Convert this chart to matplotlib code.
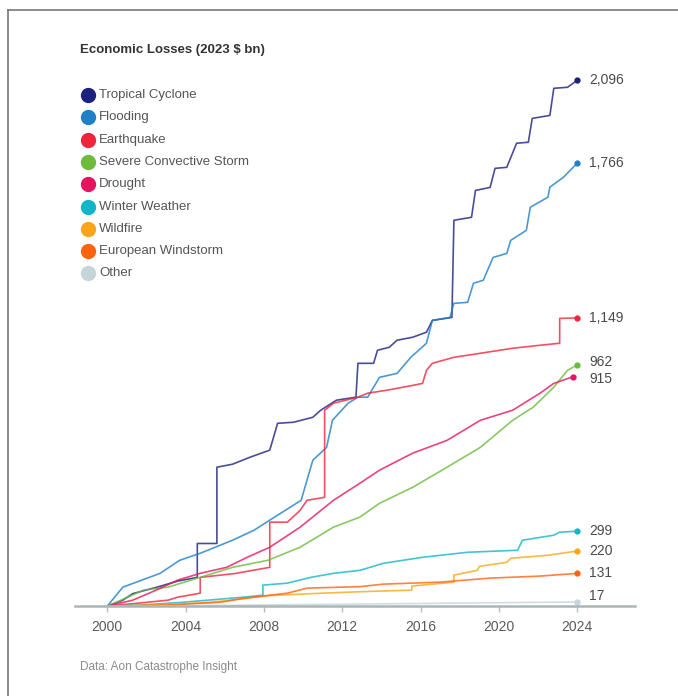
import matplotlib
matplotlib.use("Agg")
import matplotlib.pyplot as plt
from matplotlib.lines import Line2D

plt.rcParams['font.family'] = ['Liberation Sans', 'DejaVu Sans']

# cumulative economic losses, 2023 $ bn (year, running total)
tc_years = [2000, 2000.8, 2001.3, 2002.5, 2003.6, 2004.6, 2004.6, 2005.4, 2005.6, 2005.6,
            2006.4, 2007.3, 2008.3, 2008.7, 2009.5, 2010.5, 2010.9, 2011.7, 2012.7, 2012.8,
            2013.6, 2013.8, 2014.4, 2014.8, 2015.6, 2016.3, 2016.6, 2017.6, 2017.7, 2018.6,
            2018.8, 2019.55, 2019.8, 2020.4, 2020.9, 2021.5, 2021.7, 2022.6, 2022.8, 2023.5, 2024]
tc_vals = [0, 24, 50, 75, 100, 115, 250, 250, 250, 554,
           566, 594, 622, 729, 733, 753, 781, 821, 833, 968,
           968, 1020, 1032, 1060, 1072, 1092, 1139, 1151, 1538, 1550,
           1657, 1669, 1745, 1749, 1845, 1849, 1944, 1956, 2064, 2068, 2096]

fl_years = [2000, 2000.8, 2002.7, 2003.7, 2004.75, 2006.4, 2007.5, 2008.3, 2009.9, 2010.5,
            2011.2, 2011.5, 2012.3, 2012.8, 2013.3, 2013.9, 2014.8, 2015.5, 2016.3, 2016.6,
            2017.5, 2017.7, 2018.4, 2018.7, 2019.2, 2019.7, 2020.4, 2020.6, 2021.4, 2021.6,
            2022.5, 2022.6, 2023.3, 2024]
fl_vals = [0, 76, 131, 183, 211, 263, 303, 343, 422, 582,
           633, 741, 809, 833, 833, 912, 928, 992, 1048, 1139,
           1151, 1207, 1211, 1287, 1299, 1390, 1406, 1458, 1498, 1590,
           1630, 1670, 1710, 1766]

eq_years = [2000, 2003.1, 2003.6, 2004.75, 2004.75, 2006.5, 2008.3, 2008.3, 2009.2, 2009.85,
            2010.2, 2011.1, 2011.1, 2011.55, 2012.8, 2013.3, 2014.3, 2015.6, 2016.1, 2016.3,
            2016.6, 2017.7, 2019.05, 2020.7, 2022.1, 2023.1, 2023.1, 2024]
eq_vals = [0, 24, 36, 52, 115, 130, 155, 335, 335, 382,
           422, 434, 781, 809, 833, 849, 861, 880, 888, 940,
           968, 992, 1008, 1028, 1040, 1048, 1147, 1149]

scs_years = [2000, 2000.7, 2001.85, 2003.1, 2004.75, 2006.4, 2008.2, 2009.85, 2011.55, 2012.9,
             2013.9, 2015.6, 2017.35, 2019.05, 2020.7, 2021.75, 2022.8, 2023.5, 2024]
scs_vals = [0, 24, 64, 76, 115, 155, 183, 235, 315, 355,
            410, 474, 554, 633, 741, 793, 873, 940, 962]

dr_years = [2000, 2001.3, 2002.5, 2003.6, 2004.75, 2006.1, 2007.15, 2008.3, 2009.85, 2011.55,
            2012.9, 2013.9, 2015.6, 2017.35, 2019.05, 2020.7, 2022.1, 2022.8, 2023.8]
dr_vals = [0, 24, 64, 104, 131, 155, 195, 235, 315, 422,
           490, 542, 610, 661, 741, 781, 849, 888, 915]

ww_years = [2000, 2002, 2003.9, 2006.95, 2007.95, 2007.95, 2009.2, 2010.4, 2011.55, 2012.9,
            2014.1, 2016.1, 2018.4, 2020.95, 2021.2, 2022.8, 2023.1, 2024]
ww_vals = [0, 6, 16, 36, 44, 84, 92, 115, 131, 143,
           171, 195, 215, 223, 263, 283, 295, 299]

wf_years = [2000, 2003.5, 2005.3, 2007, 2008.2, 2011, 2013, 2015.55, 2015.55, 2017.7,
            2017.7, 2018.9, 2019, 2020.4, 2020.6, 2022.5, 2024]
wf_vals = [0, 8, 16, 30, 42, 52, 58, 64, 80, 96,
           124, 143, 159, 175, 191, 203, 220]

ew_years = [2000, 2003, 2005.8, 2007, 2009.2, 2010.2, 2012.9, 2014.1, 2017, 2019.55, 2022.1, 2024]
ew_vals = [0, 4, 16, 32, 52, 72, 78, 88, 96, 112, 120, 131]

ot_years = [2000, 2004, 2008, 2012, 2016, 2020, 2024]
ot_vals = [0, 2, 5, 8, 11, 14, 17]

names = ["Tropical Cyclone", "Flooding", "Earthquake", "Severe Convective Storm", "Drought",
         "Winter Weather", "Wildfire", "European Windstorm", "Other"]
colors = ["#1c2180", "#1f80c6", "#f0243c", "#6cbb3c", "#e6145f",
          "#14b5c9", "#fba51a", "#ff6310", "#c5d5da"]
series = [(tc_years, tc_vals), (fl_years, fl_vals), (eq_years, eq_vals), (scs_years, scs_vals),
          (dr_years, dr_vals), (ww_years, ww_vals), (wf_years, wf_vals), (ew_years, ew_vals),
          (ot_years, ot_vals)]
end_labels = ["2,096", "1,766", "1,149", "962", "915", "299", "220", "131", "17"]
label_nudge = [0, 0, 0, 2, -2, 0, 0, 0, 4]  # points, to keep close labels apart

fig = plt.figure(figsize=(6.78, 6.96), dpi=100)
ax = fig.add_axes([0.111, 0.129, 0.826, 0.813])

for (xs, ys), c, lab, dy in zip(series, colors, end_labels, label_nudge):
    ax.plot(xs, ys, color=c, lw=1.2, alpha=0.8, solid_joinstyle='round')
    ax.plot(xs[-1], ys[-1], 'o', color=c, ms=3.5)
    ax.annotate(lab, (2024, ys[-1]), xytext=(8.5, dy), textcoords='offset points',
                va='center', ha='left', fontsize=10, color='#4a4a4a')

ax.set_xlim(1998.37, 2026.96)
ax.set_ylim(0, 2255)
ax.set_xticks(range(2000, 2025, 4))
ax.set_yticks([])
for s in ['top', 'right', 'left']:
    ax.spines[s].set_visible(False)
ax.spines['bottom'].set_color('#aab5b9')
ax.spines['bottom'].set_linewidth(1.8)
ax.tick_params(axis='x', length=4, width=1, color='#b5bec1', labelsize=10,
               labelcolor='#5a5a5a', pad=6)

# legend drawn by hand in figure pixels
W, H = 678, 696
fig.text(80 / W, 1 - 50 / H, "Economic Losses (2023 $ bn)", fontsize=9.5,
         fontweight='bold', color='#333333', va='center')
for i, (n, c) in enumerate(zip(names, colors)):
    y = 1 - (95 + i * 22.3) / H
    fig.add_artist(Line2D([88 / W], [y], marker='o', ms=10, color=c,
                          transform=fig.transFigure))
    fig.text(99 / W, y, n, fontsize=9.5, color='#555555', va='center')

fig.text(80 / W, 1 - 667 / H, "Data: Aon Catastrophe Insight", fontsize=8.5,
         color='#8a8a8a', va='center')

# card border on top and left
fig.add_artist(Line2D([8 / W, 1], [1 - 10 / H, 1 - 10 / H], color='#777777', lw=1.2,
                      transform=fig.transFigure))
fig.add_artist(Line2D([8 / W, 8 / W], [0, 1 - 10 / H], color='#777777', lw=1.2,
                      transform=fig.transFigure))

fig.savefig("out.png", dpi=100)
